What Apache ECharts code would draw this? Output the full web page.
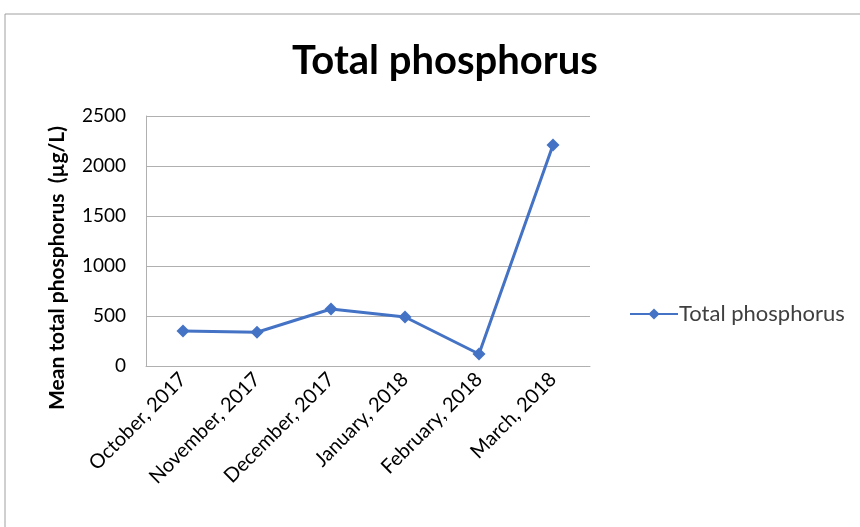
<!DOCTYPE html>
<html>
<head>
<meta charset="utf-8">
<script src="https://cdn.jsdelivr.net/npm/echarts@6/dist/echarts.min.js"></script>
<style>
  html, body { margin: 0; padding: 0; background: #fff; }
  #chart { width: 860px; height: 527px; }
</style>
</head>
<body>
<div id="chart"></div>
<script>
const months = ['October, 2017', 'November, 2017', 'December, 2017', 'January, 2018', 'February, 2018', 'March, 2018'];
const phosphorus = [350, 338, 570, 490, 120, 2210];
const seriesName = 'Total phosphorus';
const yName = 'Mean total phosphorus  (µg/L)';

const chart = echarts.init(document.getElementById('chart'));
const font = 'Lato, "Open Sans", sans-serif';

const option = {
  backgroundColor: '#fff',
  textStyle: { fontFamily: font },
  graphic: [{
    // outer chart frame like the spreadsheet chart area
    type: 'rect',
    shape: { x: 5, y: 14, width: 900, height: 600 },
    style: { fill: 'none', stroke: '#a0a0a0', lineWidth: 1 },
    silent: true
  }, {
    // y axis title, sits a bit lower than the plot centre
    type: 'text',
    x: 57,
    y: 268,
    rotation: Math.PI / 2,
    style: {
      text: yName,
      fontFamily: font,
      fontSize: 21,
      fontWeight: 'bold',
      fill: '#000',
      align: 'center',
      verticalAlign: 'middle'
    },
    silent: true
  }],
  title: {
    text: 'Total phosphorus',
    left: 440,
    top: 36,
    textAlign: 'center',
    textStyle: { fontFamily: font, fontSize: 40, fontWeight: 'bold', color: '#000' }
  },
  legend: {
    data: [seriesName],
    left: 624,
    top: 298,
    itemWidth: 48,
    itemHeight: 14,
    itemGap: 6,
    textStyle: { fontFamily: font, fontSize: 22, color: '#404040', padding: [0, 0, 0, -4] }
  },
  grid: { left: 146, right: 270, top: 116, bottom: 161 },
  xAxis: {
    type: 'category',
    data: months,
    boundaryGap: true,
    axisLine: { lineStyle: { color: '#b0b0b0', width: 1 } },
    axisTick: { show: false },
    axisLabel: {
      rotate: 45,
      margin: 10,
      fontFamily: font,
      fontSize: 20,
      color: '#000'
    }
  },
  yAxis: {
    type: 'value',
    min: 0,
    max: 2500,
    interval: 500,
    axisLine: { show: true, lineStyle: { color: '#b0b0b0', width: 1 } },
    axisTick: { show: false },
    splitLine: { lineStyle: { color: '#b0b0b0', width: 1 } },
    axisLabel: {
      fontFamily: font,
      fontSize: 19,
      color: '#000',
      margin: 20,
      formatter: function (value) {
        return String(value);
      }
    }
  },
  series: [{
    name: seriesName,
    type: 'line',
    data: phosphorus,
    symbol: 'diamond',
    symbolSize: 13,
    lineStyle: { color: '#4472C4', width: 3 },
    itemStyle: { color: '#4472C4' }
  }]
};

chart.setOption(option);
</script>
</body>
</html>
